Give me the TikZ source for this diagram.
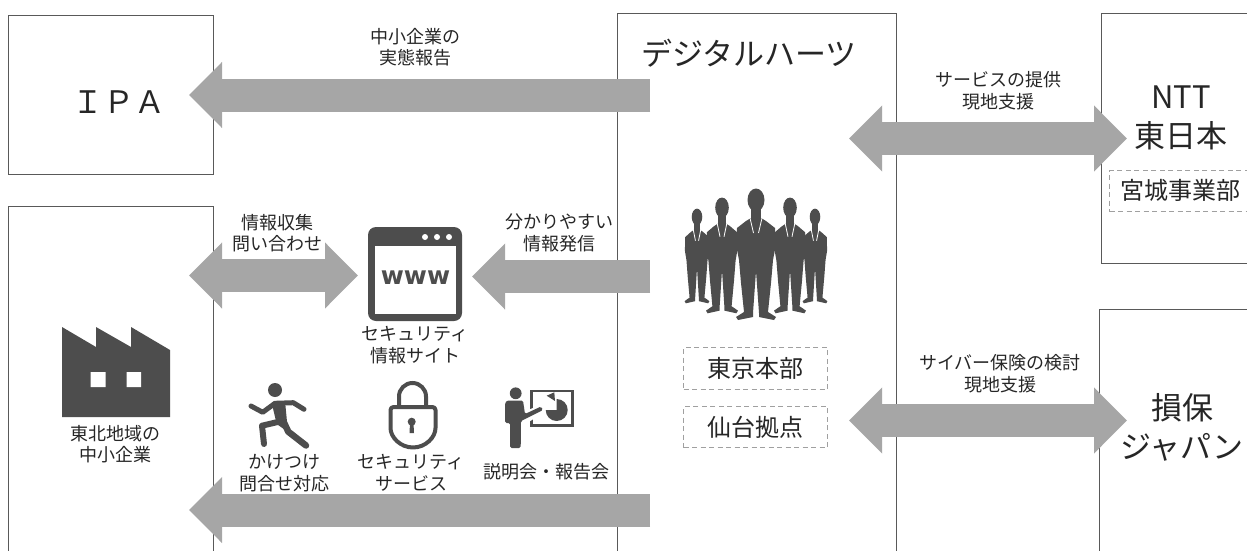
\documentclass[tikz,border=0pt]{standalone}
\usepackage{fontspec}
\setmainfont{Noto Sans CJK JP}
\newfontfamily\wwwfont{DejaVu Sans}
\usetikzlibrary{arrows.meta}
\definecolor{linegray}{HTML}{595959}
\definecolor{arrowgray}{HTML}{A6A6A6}
\definecolor{icondark}{HTML}{4D4D4D}
\definecolor{dashgray}{HTML}{A0A0A0}
\definecolor{textdark}{HTML}{262626}
\tikzset{
  panel/.style={draw=linegray,line width=1.3pt,fill=white,anchor=north west,inner sep=0pt},
  dashbox/.style={draw=dashgray,line width=1.1pt,dash pattern=on 5pt off 3.5pt,fill=white,anchor=north west,inner sep=0pt},
  small/.style={text=textdark,align=center,inner sep=0pt,font=\fontsize{18}{21.5}\selectfont},
  mid/.style={text=textdark,align=center,inner sep=0pt,font=\fontsize{24}{28}\selectfont},
  big/.style={text=textdark,align=center,inner sep=0pt,font=\fontsize{31}{39}\selectfont},
  blockleft/.style={draw=arrowgray,line width=33pt,-{Triangle[length=33pt,width=64pt,fill=arrowgray]}},
  blockboth/.style={draw=arrowgray,line width=33pt,{Triangle[length=33pt,width=64pt,fill=arrowgray]}-{Triangle[length=33pt,width=64pt,fill=arrowgray]}},
  person/.pic={
    \fill[icondark] (0,11) ellipse [x radius=8.5,y radius=11.5];
    \fill[icondark] (-5,15) rectangle (5,35);
    \fill[icondark,line join=round]
      (0,82) -- (-3,124) -- (-3,128) -- (-18,131) -- (-20,128) -- (-12,123) -- (-15,94) -- (-17,71)
      -- (-19.5,58) -- (-19,39) -- (-10,32) -- (-5,29) -- (5,29) -- (10,32) -- (19,39) -- (19.5,58)
      -- (17,71) -- (15,94) -- (12,123) -- (20,128) -- (18,131) -- (3,128) -- (3,124) -- cycle;
    \draw[white,line width=.8pt] (-6,29) -- (-2.5,44) (6,29) -- (2.5,44);
  }
}
\begin{document}
\begin{tikzpicture}[x=1pt,y=-1pt]
\useasboundingbox (0,0) rectangle (1247,551);
\clip (0,0) rectangle (1247,551);

% panels
\node[panel,minimum width=205pt,minimum height=159pt] (ipa) at (8,15) {};
\node[panel,minimum width=205pt,minimum height=400pt] (sme) at (8,206) {};
\node[panel,minimum width=279pt,minimum height=600pt] (dh) at (617,13) {};
\node[panel,minimum width=200pt,minimum height=250pt] (ntt) at (1101,13) {};
\node[panel,minimum width=200pt,minimum height=300pt] (sompo) at (1099,309) {};

% connector ends
\coordinate (a1s) at (650,95);    \coordinate (a1e) at (189,95);
\coordinate (a2s) at (189,275.5); \coordinate (a2e) at (358,275.5);
\coordinate (a3s) at (650,276.5); \coordinate (a3e) at (472,276.5);
\coordinate (a4s) at (650,510);   \coordinate (a4e) at (189,510);
\coordinate (a5s) at (849,138.5); \coordinate (a5e) at (1127,138.5);
\coordinate (a6s) at (849,420.5); \coordinate (a6e) at (1127,420.5);
\draw[blockleft] (a1s) -- (a1e);
\draw[blockboth] (a2s) -- (a2e);
\draw[blockleft] (a3s) -- (a3e);
\draw[blockleft] (a4s) -- (a4e);
\draw[blockboth] (a5s) -- (a5e);
\draw[blockboth] (a6s) -- (a6e);

% big titles
\node[big] (tipa) at (119,102) {ＩＰＡ};
\node[big] (tdh) at (749,53) {デジタルハーツ};
\node[big] (tntt) at (1181,118) {NTT\\東日本};
\node[big] (tsompo) at (1182,427) {損保\\ジャパン};

% dashed boxes
\node[dashbox,minimum width=144pt,minimum height=42pt] (tokyo) at (683,347) {};
\node[mid] at (tokyo.center) {東京本部};
\node[dashbox,minimum width=144pt,minimum height=41pt] (sendai) at (683,406) {};
\node[mid] at (sendai.center) {仙台拠点};
\node[dashbox,minimum width=160pt,minimum height=41pt] (miyagi) at (1109,170) {};
\node[mid] (tmiyagi) at (1180,190) {宮城事業部};

% small labels
\node[small] (l1) at (415,47) {中小企業の\\実態報告};
\node[small] (l2) at (998,90.5) {サービスの提供\\現地支援};
\node[small] (l3) at (1000,373.5) {サイバー保険の検討\\現地支援};
\node[small] (l4) at (277,233) {情報収集\\問い合わせ};
\node[small] (l5) at (559,233) {分かりやすい\\情報発信};
\node[small] (l6) at (415,345) {セキュリティ\\情報サイト};
\node[small] (l7) at (284,473) {かけつけ\\問合せ対応};
\node[small] (l8) at (411,473) {セキュリティ\\サービス};
\node[small] (l9) at (546,472) {説明会・報告会};
\node[small] (l10) at (115,444) {東北地域の\\中小企業};

% factory
\fill[icondark] (62,417) -- (62,327) -- (96,347) -- (96,327) -- (131,347) -- (131,327) -- (170,350) -- (170,417) -- cycle;
\fill[white] (90.5,372) rectangle (105.5,387) (126.5,372) rectangle (141,387);

% www window
\fill[icondark,rounded corners=8pt] (368,227) rectangle (462,321);
\fill[white] (375,246) rectangle (456,314);
\fill[white] (425,237) circle (3) (437,237) circle (3) (449,237) circle (3);
\node[text=icondark,inner sep=0pt,font=\wwwfont\bfseries\fontsize{25}{25}\selectfont] (www) at (415.5,278) {www};

% runner
\fill[icondark] (275,390) circle (7);
\draw[icondark,line width=5pt,line cap=round,line join=round] (251,406) -- (262.7,412.3) -- (275,403.3) -- (293.3,402.7) -- (304,409.3);
\fill[icondark,line join=round] (271.7,403) -- (285,401) -- (288,432) -- (276.7,424) -- cycle;
\draw[icondark,line width=6pt,line cap=round,line join=round] (279,421.7) -- (262,425.7) -- (264,444);
\draw[icondark,line width=6.5pt,line cap=round,line join=round] (282,418.3) -- (288.3,431.7) -- (306,445.5);

% lock
\draw[icondark,line width=4pt] (399,407) -- (399,396.5) arc[start angle=180,end angle=360,radius=13.5] -- (426,407);
\draw[icondark,line width=4pt,line join=round,fill=white,rounded corners=3pt] (413,407) -- (435.5,407) -- (435.5,424.5) -- (435.5,425) arc[start angle=0,end angle=180,radius=22.5] -- (390.5,424.5) -- (390.5,407) -- cycle;
\fill[icondark] (411.7,421.7) circle (4) (410,423) -- (413.5,423) -- (414,433) -- (409.5,433) -- cycle;

% presenter
\fill[icondark] (515.7,393.3) circle (5.9);
\draw[icondark,line width=2.5pt] (531.5,391) rectangle (572.7,425.5);
\fill[white] (523,412) -- (543,404) -- (545,412) -- (527,423) -- cycle;
\fill[icondark,line join=round,rounded corners=1.5pt] (505,423) -- (505,403) -- (507,400.5) -- (523,400.5) -- (525,414) -- (541,406.5) -- (543,410) -- (525,419) -- (521,421) -- (520.7,448) -- (510,448) -- (510,423) -- cycle;
\fill[icondark] (556.7,410) -- (556.7,399) arc[start angle=-90,end angle=180,radius=11] -- cycle;
\fill[icondark] (555,401) -- (546.7,395.7) -- (554.3,392.3) -- cycle;

% people
\pic[xscale=.62,yscale=.72] at (697,209) {person};
\pic[xscale=.62,yscale=.72] at (815,209) {person};
\pic[xscale=.8,yscale=.88] at (722,198) {person};
\pic[xscale=.8,yscale=.88] at (790,198) {person};
\pic at (756,189) {person};
\end{tikzpicture}
\end{document}
